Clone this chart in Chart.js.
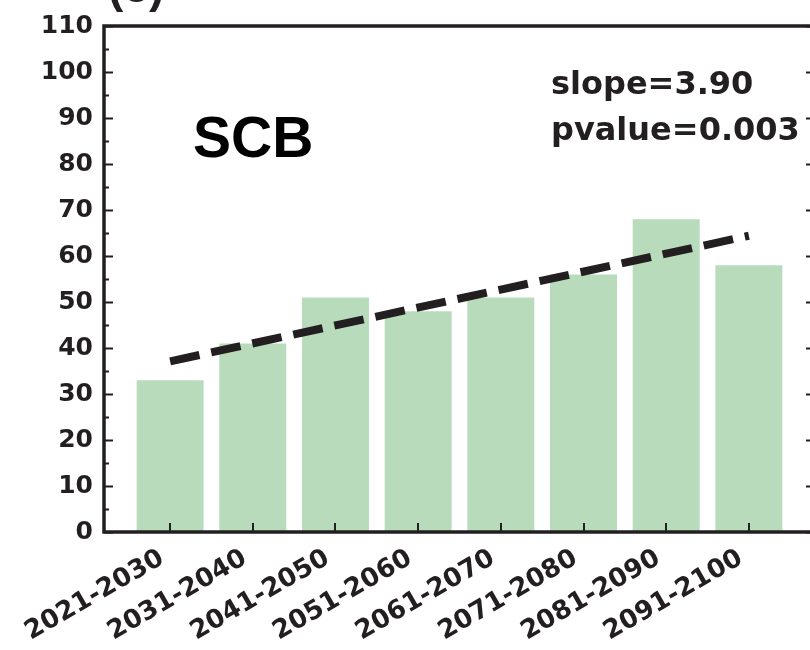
<!DOCTYPE html>
<html>
<head>
<meta charset="utf-8">
<script src="https://cdn.jsdelivr.net/npm/chart.js@4"></script>
<style>
  html, body { margin: 0; padding: 0; background: #fff; overflow: hidden; }
  #wrap { width: 830px; height: 650px; }
</style>
</head>
<body>
<div id="wrap"><canvas id="c" width="830" height="650"></canvas></div>
<script>
// decades on the x axis
const categories = ['2021-2030', '2031-2040', '2041-2050', '2051-2060',
                    '2061-2070', '2071-2080', '2081-2090', '2091-2100'];
// SCB count per decade
const scbValues = [33, 41, 51, 48, 51, 56, 68, 58];
// trend line, value at first and last decade
const trendX = [0, 7];
const trendValues = [37.1, 64.4];
const slopeText = 'slope=3.90';
const pvalueText = 'pvalue=0.003';

const ink = '#231f20';

// spines + inward ticks, like the matplotlib original
const framePlugin = {
  id: 'frame',
  afterDatasetsDraw(chart) {
    const { ctx, chartArea: a, scales } = chart;
    const x = scales.x, y = scales.y;
    ctx.save();
    ctx.strokeStyle = ink;
    ctx.lineWidth = 2;
    ctx.beginPath();
    for (let v = 0; v <= 110; v += 5) {
      const py = Math.round(y.getPixelForValue(v)) + 0.5;
      const len = v % 10 === 0 ? 9 : 5;
      ctx.moveTo(a.left, py); ctx.lineTo(a.left + len, py);
      ctx.moveTo(a.right, py); ctx.lineTo(a.right - len, py);
    }
    categories.forEach((c, i) => {
      const px = Math.round(x.getPixelForValue(i));
      ctx.moveTo(px, a.bottom); ctx.lineTo(px, a.bottom - 9);
    });
    ctx.stroke();
    ctx.lineWidth = 3.5;
    ctx.strokeRect(a.left, a.top, a.right - a.left, a.bottom - a.top);

    // labels inside the panel
    ctx.fillStyle = '#000';
    ctx.font = 'bold 57px "Liberation Sans", Arial, sans-serif';
    ctx.textBaseline = 'alphabetic';
    ctx.fillText('SCB', 193, 157);
    ctx.fillStyle = ink;
    ctx.font = 'bold 32px "DejaVu Sans"';
    ctx.fillText(slopeText, 551, 94);
    ctx.fillText(pvalueText, 551, 140);

    // panel title, cut off by the top edge
    ctx.font = 'bold 46px "Liberation Sans", Arial, sans-serif';
    ctx.fillText('(c)', 108, 2);
    ctx.fillStyle = '#6d6a6b';
    ctx.fillText('SSP5-8.5', 210, -1);
    ctx.restore();
  }
};

new Chart(document.getElementById('c'), {
  data: {
    datasets: [
      {
        type: 'bar',
        data: scbValues.map((v, i) => ({ x: i, y: v })),
        backgroundColor: 'rgb(184, 220, 187)',
        borderWidth: 0,
        categoryPercentage: 1,
        barPercentage: 0.81,
        order: 2
      },
      {
        type: 'line',
        data: trendX.map((xv, i) => ({ x: xv, y: trendValues[i] })),
        borderColor: ink,
        borderWidth: 8,
        borderDash: [30, 12],
        borderCapStyle: 'butt',
        pointRadius: 0,
        fill: false,
        order: 1
      }
    ]
  },
  options: {
    responsive: false,
    animation: false,
    layout: { padding: { top: 24, left: 0, right: 0, bottom: 0 } },
    plugins: { legend: { display: false }, tooltip: { enabled: false } },
    scales: {
      x: {
        type: 'linear',
        offset: false,
        min: -0.8,
        max: 7.8,
        afterBuildTicks: s => { s.ticks = categories.map((c, i) => ({ value: i })); },
        afterFit: s => { s.height = 118; },
        grid: { display: false, drawTicks: false },
        border: { display: false },
        ticks: {
          autoSkip: false,
          minRotation: 30,
          maxRotation: 30,
          padding: 11,
          labelOffset: -8,
          color: ink,
          font: { family: 'DejaVu Sans', weight: 'bold', size: 26 },
          callback: v => categories[v]
        }
      },
      y: {
        min: 0,
        max: 110,
        afterFit: s => { s.width = 104; },
        grid: { display: false, drawTicks: false },
        border: { display: false },
        ticks: { stepSize: 10, padding: 11, color: ink,
                 font: { family: 'DejaVu Sans', weight: 'bold', size: 25 } }
      },
      y2: {
        position: 'right',
        min: 0,
        max: 110,
        afterFit: s => { s.width = 15; },
        grid: { display: false, drawTicks: false },
        border: { display: false },
        ticks: { display: false }
      }
    }
  },
  plugins: [framePlugin]
});
</script>
</body>
</html>
